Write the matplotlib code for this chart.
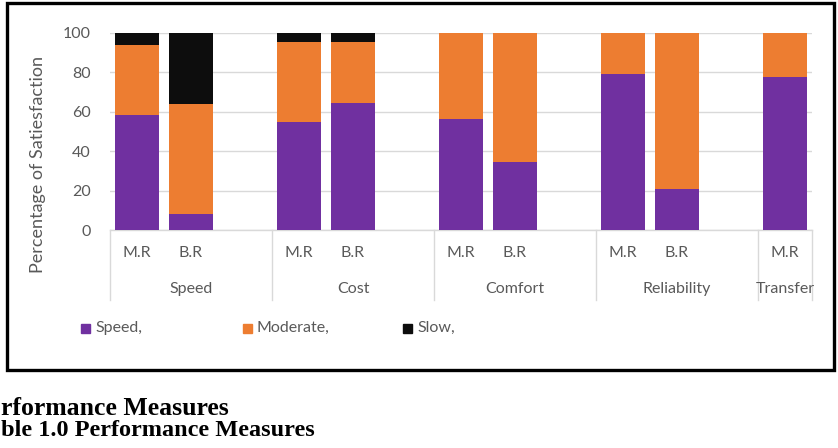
import matplotlib
matplotlib.use("Agg")
import matplotlib.pyplot as plt
import matplotlib.patches as mpatches
from matplotlib.transforms import blended_transform_factory

# ---- data ----
groups = ["Speed", "Cost", "Comfort", "Reliability", "Transfer"]
sub_labels = ["M.R", "B.R", "M.R", "B.R", "M.R", "B.R", "M.R", "B.R", "M.R"]
bar_group = [0, 0, 1, 1, 2, 2, 3, 3, 4]
speed = [58.2, 8.0, 54.8, 64.6, 56.2, 34.4, 79.0, 20.8, 77.7]
moderate = [35.6, 55.8, 40.5, 30.7, 43.8, 65.6, 21.0, 79.2, 22.3]
slow = [6.2, 36.2, 4.7, 4.7, 0, 0, 0, 0, 0]
series_names = ["Speed,", "Moderate,", "Slow,"]
yticks = [0, 20, 40, 60, 80, 100]
ylabel = "Percentage of Satiesfaction"
# captions as visible in the reference (cut at the left edge of the page)
caption1 = "rformance Measures"
caption2 = "ble 1.0 Performance Measures"

colors = ["#7030A0", "#ED7D31", "#0D0D0D"]
txt_col = "#595959"
grid_col = "#D9D9D9"
FONT = "Lato"

W, H = 838, 448
fig = plt.figure(figsize=(W / 100, H / 100), dpi=100)

def fx(px):
    return px / W

def fy(py):
    return 1 - py / H

# plot area
left, right, top, bottom = 110, 812, 33, 230
ax = fig.add_axes([fx(left), fy(bottom), fx(right - left), (bottom - top) / H])

# slot positions: each group takes 3 slots (2 bars + blank), last group 1 slot
slots_per_group = 3
pos = []
count_in_group = {}
for g in bar_group:
    k = count_in_group.get(g, 0)
    pos.append(g * slots_per_group + k)
    count_in_group[g] = k + 1
n_slots = (len(groups) - 1) * slots_per_group + 1

bw = 0.81
base2 = [a + b for a, b in zip(speed, moderate)]
ax.bar(pos, speed, width=bw, color=colors[0], zorder=3)
ax.bar(pos, moderate, width=bw, bottom=speed, color=colors[1], zorder=3)
ax.bar(pos, slow, width=bw, bottom=base2, color=colors[2], zorder=3)

ax.set_xlim(-0.5, n_slots - 0.5)
ax.set_ylim(0, 100)
ax.set_yticks(yticks)
ax.set_yticklabels([str(t) for t in yticks], fontsize=11.5, color=txt_col, family=FONT)
ax.tick_params(axis="y", length=0, pad=14)
ax.tick_params(axis="x", length=0, labelbottom=False)
ax.grid(axis="y", color=grid_col, linewidth=1, zorder=0)
for s in ["top", "right", "left"]:
    ax.spines[s].set_visible(False)
ax.spines["bottom"].set_color(grid_col)
ax.spines["bottom"].set_linewidth(1)
ax.set_xticks([])

# category labels
tr = blended_transform_factory(ax.transData, fig.transFigure)
for p, lab in zip(pos, sub_labels):
    ax.text(p, fy(253), lab, transform=tr, ha="center", va="center",
            fontsize=11.5, color=txt_col, family=FONT)
for gi, g in enumerate(groups):
    start = gi * slots_per_group - 0.5
    end = min(start + slots_per_group, n_slots - 0.5)
    ax.text((start + end) / 2, fy(289), g, transform=tr, ha="center", va="center",
            fontsize=11.5, color=txt_col, family=FONT)
# separators
seps = [gi * slots_per_group - 0.5 for gi in range(len(groups))] + [n_slots - 0.5]
for s in seps:
    ax.plot([s, s], [fy(bottom), fy(300)], transform=tr, color=grid_col,
            linewidth=1, clip_on=False)

# y label
fig.text(fx(38), fy(164), ylabel, rotation=90, ha="center", va="center",
         fontsize=13, color=txt_col, family=FONT)

# legend (manual, Excel style)
leg_x = [81, 243, 403]
for x0, c, name in zip(leg_x, colors, series_names):
    fig.patches.append(mpatches.Rectangle((fx(x0), fy(333)), fx(9), 9 / H,
                                          transform=fig.transFigure, color=c))
    fig.text(fx(x0 + 14), fy(328), name, ha="left", va="center",
             fontsize=11.5, color=txt_col, family=FONT)

# outer border
fig.patches.append(mpatches.Rectangle((fx(7), fy(370)), fx(827), 367 / H,
                                      transform=fig.transFigure, fill=False,
                                      edgecolor="black", linewidth=2.4))

# captions
fig.text(fx(1), fy(415), caption1, ha="left", va="baseline",
         fontsize=18.5, fontweight="bold", family="Liberation Serif", color="black")
fig.text(fx(1), fy(436), caption2, ha="left", va="baseline",
         fontsize=17.5, fontweight="bold", family="Liberation Serif", color="black")

fig.savefig("out.png", dpi=100, facecolor="white")
